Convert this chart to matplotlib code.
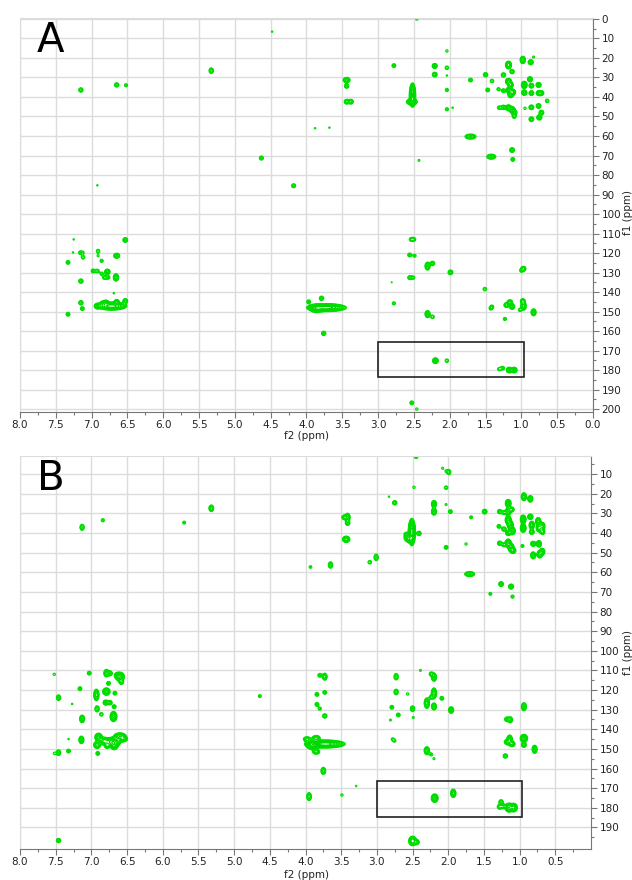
import numpy as np
import matplotlib.pyplot as plt
from matplotlib.patches import Rectangle
from matplotlib.colors import LinearSegmentedColormap

# peaks: (f2 ppm, f1 ppm, height, x-width factor, y-width factor)
a_upper_left = [
    (7.15, 36.4, 2.5), (6.65, 33.8, 2.5), (6.52, 34.0, 1.6), (5.33, 26.5, 2.5, 1, 1.3),
    (4.48, 6.5, 1.1), (3.88, 56.0, 1.1), (4.63, 71.3, 2.2), (4.18, 85.5, 2.2), (6.92, 85.3, 1.1),
]
a_aliphatic = [
    (2.46, 0.0, 1.3), (2.78, 23.9, 2), (2.21, 24.1, 3.5), (2.21, 28.5, 3),
    (2.04, 16.4, 1.3), (2.04, 25.0, 1.8), (2.04, 29.0, 1.1), (2.04, 36.4, 1.6), (2.04, 46.3, 1.6),
    (1.96, 45.5, 1.1), (3.44, 31.3, 4, 1.3, 1), (3.44, 34.4, 2.5), (3.44, 42.4, 3), (3.38, 42.4, 3),
    (2.52, 39.0, 12, 0.9, 3.5), (2.53, 42.5, 6, 1.8, 1), (3.68, 55.7, 1.1), (2.43, 72.5, 1.2),
    (1.71, 31.3, 2), (1.71, 60.3, 3.5, 2.2, 1), (1.50, 28.6, 2.5), (1.47, 36.4, 2), (1.41, 31.8, 1.8),
    (1.42, 70.6, 3.5, 1.8, 1), (1.31, 45.5, 1.8), (1.32, 36.0, 1.6), (1.25, 28.7, 2.5),
    (1.25, 36.8, 2), (1.25, 45.3, 2.5), (1.18, 23.6, 6, 1, 1.3), (1.13, 27.0, 2.5),
    (1.18, 32.0, 6), (1.15, 33.8, 4), (1.17, 36.5, 6), (1.12, 37.5, 5), (1.15, 39.0, 4),
    (1.18, 45.5, 5), (1.13, 46.5, 6), (1.10, 48.0, 4), (1.10, 50.0, 2), (1.13, 67.2, 3),
    (1.12, 72.0, 2), (0.98, 21.0, 4, 1, 1.4), (0.87, 22.2, 3.5), (0.83, 19.5, 1.2),
    (0.96, 33.8, 5, 1, 1.3), (0.96, 37.8, 4), (0.88, 30.9, 3.5), (0.86, 34.2, 3), (0.86, 38.0, 3),
    (0.76, 33.8, 3.5), (0.76, 38.0, 3), (0.72, 38.0, 3), (0.64, 42.0, 1.8), (0.86, 45.3, 3),
    (0.76, 44.6, 3), (0.86, 51.4, 3), (0.75, 50.5, 3.5), (0.72, 48.0, 3), (0.95, 45.8, 1.3),
]
a_aromatic = [
    (6.53, 113.3, 3), (7.25, 113.0, 1.1), (7.26, 119.7, 1.1), (7.16, 119.8, 1.6), (7.12, 119.8, 1.2),
    (7.12, 122.2, 1.8), (6.91, 119.0, 1.8), (6.91, 121.4, 1.2), (6.86, 124.0, 1.6),
    (6.65, 121.4, 3.5, 1.2, 1), (7.33, 124.8, 2), (6.98, 129.2, 2), (6.92, 129.2, 1.8),
    (6.78, 129.6, 4), (6.86, 130.6, 1.6), (6.82, 132.5, 2), (6.77, 132.5, 1.8),
    (6.66, 132.5, 4, 1, 1.4), (7.15, 134.4, 2.5), (7.15, 145.5, 2.5), (7.13, 148.5, 2),
    (6.92, 147.2, 3.5), (6.72, 147.2, 10, 4.5, 1.2), (6.80, 145.5, 4), (6.65, 145.0, 3),
    (6.69, 140.6, 1.1), (6.53, 144.6, 3), (7.33, 151.4, 2), (6.85, 145.7, 2),
]
a_methoxy = [
    (3.72, 148.0, 14, 5.5, 1.1), (3.86, 148.5, 6, 2, 1.3), (3.97, 145.0, 2), (3.79, 143.2, 2.5),
    (3.76, 161.2, 2.5),
]
a_lower_right = [
    (2.54, 113.0, 1.8), (2.50, 113.0, 1.8), (2.56, 121.0, 2), (2.49, 121.4, 1.5),
    (2.56, 132.6, 2), (2.51, 132.6, 1.6), (2.31, 126.7, 3.5, 1, 1.6), (2.24, 125.3, 2.5),
    (1.99, 129.9, 3), (2.81, 135.0, 1.05), (2.78, 145.8, 1.6), (2.31, 151.3, 3.5, 1, 1.4),
    (2.24, 152.7, 1.8), (1.51, 138.5, 1.8), (1.41, 147.5, 1.6), (1.43, 148.5, 1.3),
    (1.23, 153.8, 1.6), (1.16, 145.3, 4), (1.21, 146.7, 3), (1.13, 147.5, 4), (1.02, 149.2, 1.6),
    (0.98, 144.6, 3), (0.97, 146.5, 3), (0.97, 148.0, 3), (1.00, 129.0, 1.6), (0.97, 128.0, 3),
    (0.83, 150.4, 3.5, 1, 1.4),
    (2.20, 175.2, 5), (2.04, 175.2, 1.8), (1.31, 179.5, 1.6), (1.26, 179.0, 1.8),
    (1.17, 180.0, 5), (1.10, 180.0, 5), (2.53, 196.8, 2), (2.46, 200.0, 1.3),
]

b_upper_left = [
    (7.13, 37.1, 2.5, 1, 1.4), (6.84, 33.5, 1.6), (5.70, 34.7, 1.5), (5.32, 27.4, 3, 1, 1.4),
    (3.93, 57.3, 1.4),
]
b_aliphatic = [
    (2.45, 1.1, 2), (2.08, 7.0, 1.2), (2.03, 8.5, 1.1), (1.99, 9.0, 2, 1, 1.3), (2.48, 16.7, 1.3),
    (2.03, 16.9, 1.8), (2.83, 21.5, 1.1), (2.75, 24.6, 2.5), (2.20, 25.2, 3.5, 1, 1.4),
    (2.20, 29.1, 3.5, 1, 1.4), (2.03, 25.5, 1.2), (1.97, 29.1, 2),
    (3.46, 32.0, 2.5), (3.41, 32.0, 3.5, 1, 1.6), (3.41, 35.0, 2.5), (3.43, 43.2, 4, 1.4, 1.2),
    (3.65, 56.3, 2.5, 1, 1.5), (3.10, 54.9, 1.8), (3.01, 52.4, 2.5, 1, 1.5),
    (2.51, 39.5, 14, 1.0, 3.8), (2.57, 42.5, 5, 1.2, 1.2), (2.59, 40.6, 2), (2.41, 40.2, 2.5),
    (2.54, 43.5, 4), (2.03, 47.3, 2), (1.75, 45.6, 1.3), (1.68, 32.0, 1.5),
    (1.70, 60.9, 3.5, 2, 1), (1.49, 29.1, 3), (1.41, 71.0, 1.5), (1.28, 29.1, 2.5),
    (1.29, 36.6, 2), (1.28, 45.2, 2.5), (1.26, 66.0, 3), (1.22, 29.6, 2), (1.22, 38.0, 2.5),
    (1.22, 46.0, 2), (1.16, 24.9, 5, 1, 1.4), (1.16, 29.1, 4.5, 1, 1.3), (1.11, 28.0, 3),
    (1.16, 33.4, 6, 1, 1.4), (1.13, 36.0, 6, 1, 1.4), (1.10, 39.0, 5, 1, 1.3), (1.16, 40.0, 3.5),
    (1.16, 45.2, 6, 1, 1.4), (1.12, 47.5, 6, 1, 1.4), (1.09, 49.0, 4), (1.12, 67.3, 3.5),
    (1.10, 72.4, 1.6), (0.96, 46.6, 1.5), (0.94, 21.5, 4, 1, 1.5), (0.85, 22.6, 3.5, 1, 1.3),
    (0.95, 33.0, 5, 1, 1.5), (0.95, 37.5, 5, 1, 1.5), (0.85, 31.7, 4), (0.83, 36.0, 4, 1, 1.5),
    (0.83, 39.5, 3), (0.74, 34.0, 4, 1, 1.4), (0.73, 37.5, 4, 1, 1.4), (0.68, 36.5, 3.5, 1, 1.5),
    (0.68, 39.5, 3), (0.81, 45.5, 3.5), (0.81, 51.4, 3.5, 1, 1.4), (0.73, 45.5, 3.5, 1, 1.3),
    (0.72, 50.8, 3.5, 1, 1.5), (0.68, 49.5, 3, 1, 1.4),
]
b_aromatic = [
    (7.52, 112.0, 1.3), (7.03, 111.4, 2), (6.79, 111.4, 3.5, 1, 1.5), (6.74, 111.5, 3),
    (6.60, 113.2, 6, 1.5, 1.5), (6.64, 112.5, 3), (6.58, 116.0, 2.5), (6.76, 116.6, 2),
    (7.16, 119.3, 2), (7.46, 123.9, 2.5, 1, 1.3), (7.27, 127.1, 1.1), (6.93, 122.5, 4, 1, 2.2),
    (6.79, 120.8, 5, 1.3, 1.3), (6.67, 121.6, 2), (6.80, 126.4, 3.5), (6.74, 126.4, 2.5),
    (6.68, 128.5, 2), (6.92, 129.6, 2.5, 1, 1.4), (6.86, 132.4, 1.8), (6.69, 133.5, 5, 1.2, 1.8),
    (7.13, 134.7, 3.5, 1, 1.5), (7.46, 151.9, 2.5, 1, 1.3), (7.52, 152.3, 1.2), (7.32, 151.1, 2),
    (7.32, 145.0, 1.1), (7.14, 145.4, 3.5, 1, 1.5),
    (6.90, 144.0, 5, 1.3, 1.4), (6.92, 148.0, 4, 1.3, 1.3), (6.82, 146.0, 5, 1.5, 1.3),
    (6.70, 146.5, 8, 2.5, 1.5), (6.60, 143.5, 6, 2, 1.1), (6.55, 145.0, 4, 1.5, 1),
    (6.68, 148.5, 5, 1.2, 1.3), (6.78, 148.5, 3), (6.91, 152.3, 2), (7.46, 196.7, 2.5),
]
b_methoxy = [
    (4.64, 123.1, 1.5), (3.84, 122.2, 2), (3.84, 127.3, 2), (3.95, 174.3, 3, 1, 1.7),
    (3.72, 147.5, 14, 5.5, 1.1), (3.90, 148.0, 7, 2, 1.5), (3.98, 145.0, 3, 1.5, 1),
    (3.85, 144.5, 4, 1.5, 1), (3.85, 151.5, 3, 1.5, 1), (3.73, 113.2, 3, 1, 1.5), (3.80, 112.5, 2),
    (3.73, 121.2, 2), (3.73, 133.2, 2.5), (3.80, 129.5, 1.6), (3.75, 161.2, 3, 1, 1.5),
    (3.29, 168.9, 1.1), (3.49, 173.5, 1.3),
]
b_lower_right = [
    (2.73, 113.2, 2.5, 1, 1.5), (2.73, 121.0, 2.5, 1, 1.3), (2.79, 128.8, 2), (2.81, 135.3, 1.2),
    (2.70, 132.7, 2), (2.57, 122.0, 1.3), (2.78, 145.0, 1.3), (2.75, 146.0, 1.2),
    (2.50, 129.5, 2.5, 1, 1.3), (2.49, 134.0, 1.2), (2.39, 110.0, 1.2), (2.24, 111.8, 2),
    (2.20, 113.5, 3.5, 1, 1.6), (2.30, 126.7, 4, 1, 2.0), (2.24, 123.7, 1.8),
    (2.20, 121.6, 4, 1, 2.0), (2.20, 128.4, 3.5, 1, 1.4), (2.09, 124.2, 2), (1.96, 130.2, 3.5, 1, 1.3),
    (2.30, 150.9, 4, 1, 1.5), (2.24, 152.8, 1.5), (2.20, 155.0, 1.2),
    (2.19, 175.1, 5, 1.2, 1.5), (1.93, 172.6, 4, 1, 1.6), (1.26, 177.0, 2.5), (1.28, 179.5, 3),
    (1.23, 179.2, 2.5), (1.15, 179.9, 6, 1.3, 1.5), (1.08, 179.9, 5, 1.2, 1.5),
    (2.50, 196.9, 6, 1.3, 1.6), (2.44, 197.5, 3),
    (1.18, 134.9, 2.5), (1.13, 135.2, 2.5, 1, 1.4), (1.14, 145.5, 5, 1, 1.8), (1.18, 146.5, 3),
    (1.10, 147.5, 3.5), (1.20, 153.6, 2.5), (0.94, 128.5, 3.5, 1, 1.6), (0.94, 144.6, 5, 1.3, 1.4),
    (0.94, 148.0, 3), (0.79, 150.2, 3.5, 1, 1.6),
]

A_PEAKS = a_upper_left + a_aliphatic + a_aromatic + a_methoxy + a_lower_right
B_PEAKS = b_upper_left + b_aliphatic + b_aromatic + b_methoxy + b_lower_right

# boxed carbonyl region (f2 from, f2 to, f1 from, f1 to)
A_BOX = (3.0, 0.97, 165.5, 183.4)
B_BOX = (3.0, 0.97, 166.3, 184.5)

SX = 0.022   # base peak width in f2 (ppm)
SY = 0.8     # base peak width in f1 (ppm)
LEVELS = 1.35 ** np.arange(0, 14)

plt.rcParams['font.family'] = ['DejaVu Sans']


def spectrum(peaks, x, y):
    z = np.zeros((len(y), len(x)))
    for p in peaks:
        f2, f1, amp = p[:3]
        wx = p[3] if len(p) > 3 else 1.0
        wy = p[4] if len(p) > 4 else 1.0
        gx = np.exp(-0.5 * ((x - f2) / (SX * wx)) ** 2)
        gy = np.exp(-0.5 * ((y - f1) / (SY * wy)) ** 2)
        z += amp * np.outer(gy, gx)
    return z


green = LinearSegmentedColormap.from_list('grn', ['#00e000', '#00a800'])


def draw_panel(ax, peaks, box, xlim, ylim, yticks, xticks, letter):
    x = np.linspace(8.05, -0.05, 1500)
    y = np.linspace(-2, 203, 1100)
    z = spectrum(peaks, x, y)
    ax.contour(x, y, z, levels=LEVELS, cmap=green, linewidths=0.9)

    x0, x1, y0, y1 = box
    ax.add_patch(Rectangle((x1, y0), x0 - x1, y1 - y0, fill=False,
                           edgecolor='#222222', linewidth=1.2, zorder=5))

    ax.set_xlim(*xlim)
    ax.set_ylim(*ylim)
    ax.set_xticks(xticks)
    ax.set_xticklabels([f'{t:.1f}' for t in xticks])
    ax.set_xticks(np.arange(0.25, 8.0, 0.5), minor=True)
    ax.set_yticks(yticks)
    ax.set_yticklabels([f'{t:d}' for t in yticks])
    ax.set_yticks(np.arange(5, 200, 10), minor=True)
    ax.yaxis.tick_right()
    ax.grid(True, which='major', color='#dcdcdc', linewidth=1.0)
    ax.set_axisbelow(True)
    for s in ['left', 'top']:
        ax.spines[s].set_color('#dcdcdc')
    for s in ['bottom', 'right']:
        ax.spines[s].set_color('#777777')
    ax.tick_params(which='major', length=4, width=0.8, color='#777777',
                   labelsize=7.5, labelcolor='#222222', pad=2)
    ax.tick_params(which='minor', length=2, width=0.8, color='#777777')
    ax.text(0.029, 0.993, letter, transform=ax.transAxes, fontsize=29,
            ha='left', va='top', color='black')


fig = plt.figure(figsize=(6.32, 8.8), dpi=100)
ax_a = fig.add_axes([20 / 632, 1 - 412 / 880, 573 / 632, 394 / 880])
ax_b = fig.add_axes([20 / 632, 1 - 849 / 880, 571 / 632, 393 / 880])

draw_panel(ax_a, A_PEAKS, A_BOX, (8.0, 0.0), (201.5, -0.5),
           list(range(0, 201, 10)), np.arange(8.0, -0.01, -0.5), 'A')
draw_panel(ax_b, B_PEAKS, B_BOX, (8.0, 0.0), (201.0, 0.76),
           list(range(10, 191, 10)), np.arange(8.0, 0.49, -0.5), 'B')

fig.text(306 / 632, 1 - 436 / 880, 'f2 (ppm)', ha='center', va='center', fontsize=7.5, color='#222222')
fig.text(306 / 632, 1 - 875 / 880, 'f2 (ppm)', ha='center', va='center', fontsize=7.5, color='#222222')
fig.text(628 / 632, 1 - 212 / 880, 'f1 (ppm)', ha='center', va='center', rotation=90, fontsize=7.5, color='#222222')
fig.text(628 / 632, 1 - 652 / 880, 'f1 (ppm)', ha='center', va='center', rotation=90, fontsize=7.5, color='#222222')

fig.savefig('out.png', dpi=100)
